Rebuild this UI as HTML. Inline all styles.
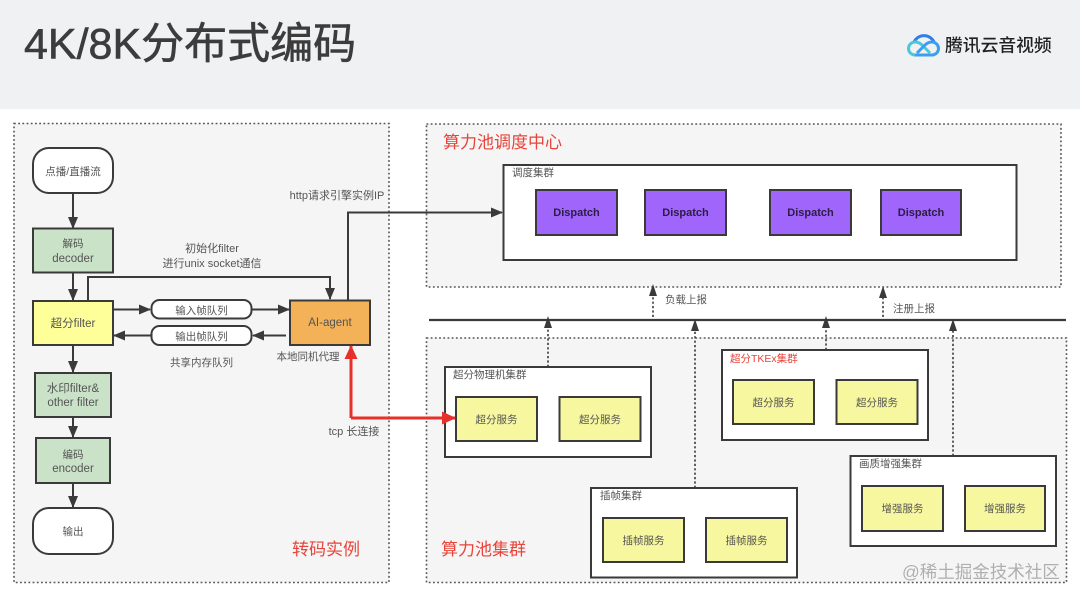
<!DOCTYPE html>
<html><head><meta charset="utf-8"><style>
html,body{margin:0;padding:0;background:#fff}
svg{display:block;filter:blur(.3px)}
text{font-family:"Liberation Sans","Noto Sans CJK SC",sans-serif;fill:#555;font-size:10.5px;text-anchor:middle}
text.m{font-size:11.5px}
.n{stroke:#3a3a3a;stroke-width:2}
.l{stroke:#3a3a3a;stroke-width:2;fill:none}
.d{stroke:#3a3a3a;stroke-width:1.6;fill:none;stroke-dasharray:2.2 2.2}
.o{stroke:#555;stroke-width:1.6;fill:#f5f5f5;stroke-dasharray:1.8 2.4}
.s{fill:#ffff99}
.g{fill:#cae3c8}
.v{fill:#a066fb}
.w{fill:#fff}
.c{fill:#fff;stroke:#3a3a3a;stroke-width:2}
text.r{fill:#e8443a;text-anchor:start;font-size:17px}
text.t{text-anchor:start}
</style></head><body>
<svg width="1080" height="602" viewBox="0 0 1080 602" xmlns="http://www.w3.org/2000/svg">
<defs>
<marker id="a" markerWidth="13" markerHeight="11" refX="11" refY="5" orient="auto" markerUnits="userSpaceOnUse"><path d="M0 0L12 5L0 10z" fill="#3a3a3a"/></marker>
<marker id="ar" markerWidth="16" markerHeight="14" refX="13" refY="6.500" orient="auto" markerUnits="userSpaceOnUse"><path d="M0 0L14 6.500L0 13z" fill="#e8302a"/></marker>
</defs>
<rect width="1080" height="602" fill="#fff"/>
<rect width="1080" height="109" fill="#f0f1f3"/>
<text x="24" y="58.500" style="font-size:43px;fill:#3c3c3c;stroke:#3c3c3c;stroke-width:.6px;text-anchor:start">4K/8K分布式编码</text>

<!-- logo -->
<g fill="none" stroke-width="3">
<path d="M914 42A11 11 0 0 1 934 42" stroke="#2f7fe8"/>
<path d="M930 55H915a6.500 6.500 0 0 1 0-13q4 0 7 3l8 8" stroke="#4cc6dc"/>
<path d="M915 55H932a6.500 6.500 0 0 0 0-13q-4 0-7 3l-8 8" stroke="#3a9ff0"/>
</g>
<text x="945" y="51.500" style="font-size:17.800px;fill:#222;text-anchor:start;font-weight:500">腾讯云音视频</text>

<!-- panels -->
<rect class="o" x="14" y="123.500" width="375" height="459"/>
<rect class="o" x="426.500" y="124" width="634.500" height="163"/>
<rect class="o" x="426.500" y="338" width="640" height="244.500"/>

<!-- left flow -->
<g class="l">
<line x1="73" y1="193" x2="73" y2="228" marker-end="url(#a)"/>
<line x1="73" y1="272" x2="73" y2="300" marker-end="url(#a)"/>
<line x1="73" y1="345" x2="73" y2="372" marker-end="url(#a)"/>
<line x1="73" y1="417" x2="73" y2="437" marker-end="url(#a)"/>
<line x1="73" y1="483" x2="73" y2="507" marker-end="url(#a)"/>
<path d="M88 301V277H330V299" marker-end="url(#a)"/>
<line x1="113" y1="309.500" x2="150" y2="309.500" marker-end="url(#a)"/>
<line x1="252" y1="309.500" x2="289" y2="309.500" marker-end="url(#a)"/>
<line x1="286" y1="335.500" x2="253" y2="335.500" marker-end="url(#a)"/>
<line x1="151" y1="335.500" x2="114" y2="335.500" marker-end="url(#a)"/>
<path d="M348 300V212.500H502" marker-end="url(#a)"/>
</g>
<rect class="c" x="33" y="148" width="80" height="45" rx="16"/>
<rect class="n g" x="33" y="228.500" width="80" height="44"/>
<rect class="n s" x="33" y="301" width="80" height="44"/>
<rect class="n g" x="35" y="373" width="76" height="44"/>
<rect class="n g" x="36" y="438" width="74" height="45"/>
<rect class="c" x="33" y="508" width="80" height="46" rx="16"/>
<rect class="c" x="151.500" y="300" width="100" height="18.500" rx="8"/>
<rect class="c" x="151.500" y="326" width="100" height="19" rx="8"/>
<rect class="n" fill="#f3b258" x="290" y="300.500" width="80" height="44.500"/>

<text x="73" y="175">点播/直播流</text>
<text x="73" y="247">解码</text>
<text class="m" x="73" y="262">decoder</text>
<text class="m" x="73" y="327">超分filter</text>
<text class="m" x="73" y="392">水印filter&amp;</text>
<text class="m" x="73" y="406">other filter</text>
<text x="73" y="458">编码</text>
<text class="m" x="73" y="472">encoder</text>
<text x="73" y="535">输出</text>
<text x="201.500" y="314">输入帧队列</text>
<text x="201.500" y="340">输出帧队列</text>
<text class="m" x="330" y="326">AI-agent</text>
<text x="212" y="252" style="font-size:11px">初始化filter</text>
<text x="212" y="267" style="font-size:11px">进行unix socket通信</text>
<text x="201.500" y="366">共享内存队列</text>
<text x="308" y="360">本地同机代理</text>
<text x="337" y="199" style="font-size:11px">http请求引擎实例IP</text>
<text x="354" y="435" style="font-size:11px">tcp 长连接</text>
<text class="r" x="292" y="555">转码实例</text>

<!-- dispatch -->
<text class="r" x="443" y="148">算力池调度中心</text>
<rect class="n w" x="503.500" y="165" width="513" height="95"/>
<text class="t" x="512" y="176">调度集群</text>
<g class="n v">
<rect x="536" y="190" width="81" height="45"/>
<rect x="645" y="190" width="81" height="45"/>
<rect x="770" y="190" width="81" height="45"/>
<rect x="881" y="190" width="80" height="45"/>
</g>
<text x="576.500" y="216" style="fill:#2c1c46;font-weight:bold;font-size:11px">Dispatch</text>
<text x="685.500" y="216" style="fill:#2c1c46;font-weight:bold;font-size:11px">Dispatch</text>
<text x="810.500" y="216" style="fill:#2c1c46;font-weight:bold;font-size:11px">Dispatch</text>
<text x="921" y="216" style="fill:#2c1c46;font-weight:bold;font-size:11px">Dispatch</text>

<!-- bus and reports -->
<line x1="429" y1="320" x2="1066" y2="320" stroke="#3a3a3a" stroke-width="2.200"/>
<g class="d">
<line x1="653" y1="317" x2="653" y2="296"/>
<line x1="883" y1="317" x2="883" y2="296"/>
<line x1="548" y1="367" x2="548" y2="328"/>
<line x1="695" y1="488" x2="695" y2="328"/>
<line x1="826" y1="350" x2="826" y2="328"/>
<line x1="953" y1="456" x2="953" y2="328"/>
</g>
<g fill="#3a3a3a">
<path d="M653 284l-4 12h8z"/>
<path d="M883 286l-4 12h8z"/>
<path d="M548 316l-4 12h8z"/>
<path d="M695 319l-4 12h8z"/>
<path d="M826 316l-4 12h8z"/>
<path d="M953 319l-4 12h8z"/>
</g>
<text class="t" x="665" y="303">负载上报</text>
<text class="t" x="893" y="312">注册上报</text>

<!-- clusters -->
<g class="n w">
<rect x="445" y="367" width="206" height="90"/>
<rect x="722" y="350" width="206" height="90"/>
<rect x="591" y="488" width="206" height="89.500"/>
<rect x="850.500" y="456" width="205.500" height="90"/>
</g>
<g class="n" fill="#f7f7a0">
<rect x="456" y="397" width="81" height="44"/>
<rect x="559.500" y="397" width="81" height="44"/>
<rect x="733" y="380" width="81" height="44"/>
<rect x="836.500" y="380" width="81" height="44"/>
<rect x="603" y="518" width="81" height="44"/>
<rect x="706" y="518" width="81" height="44"/>
<rect x="862" y="486" width="81" height="45"/>
<rect x="965" y="486" width="80" height="45"/>
</g>
<text class="t" x="453" y="378">超分物理机集群</text>
<text class="t" x="730" y="362" style="fill:#e8443a">超分TKEx集群</text>
<text class="t" x="600" y="499">插帧集群</text>
<text class="t" x="859" y="467">画质增强集群</text>
<text x="496.500" y="423">超分服务</text>
<text x="600" y="423">超分服务</text>
<text x="773.500" y="406">超分服务</text>
<text x="877" y="406">超分服务</text>
<text x="643.500" y="544">插帧服务</text>
<text x="746.500" y="544">插帧服务</text>
<text x="902.500" y="512">增强服务</text>
<text x="1005" y="512">增强服务</text>
<text class="r" x="441" y="555">算力池集群</text>
<text x="902" y="578" style="font-size:17.500px;fill:#a8a8a8;text-anchor:start;opacity:.9">@稀土掘金技术社区</text>

<!-- red connector -->
<path d="M351 418V346" stroke="#e8302a" stroke-width="3" fill="none" marker-end="url(#ar)"/>
<path d="M351 418H455" stroke="#e8302a" stroke-width="3" fill="none" marker-end="url(#ar)"/>
</svg>
</body></html>
